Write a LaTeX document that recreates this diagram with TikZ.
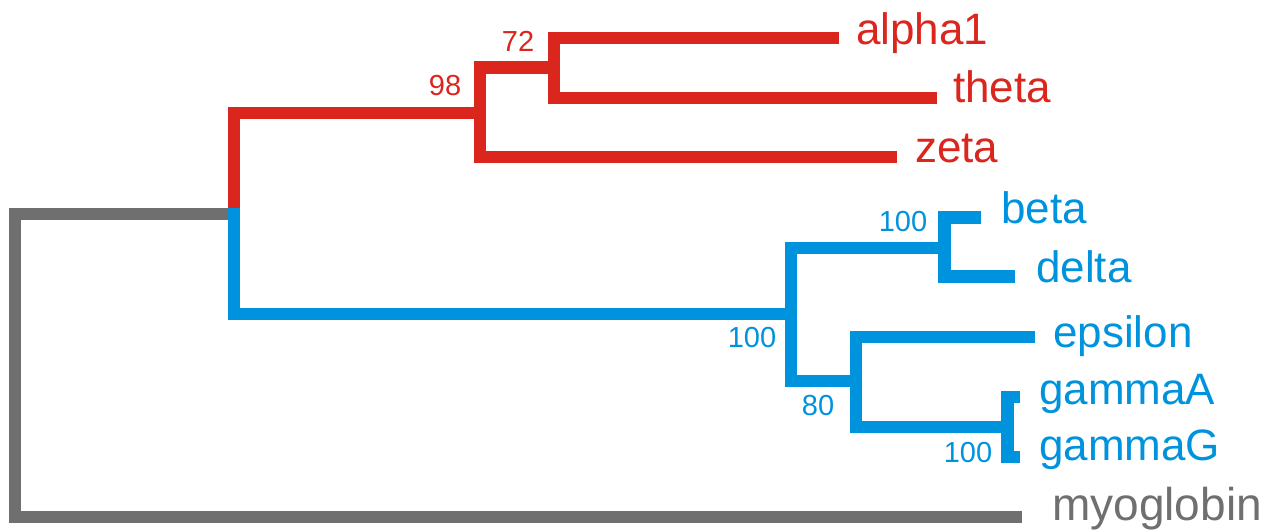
\documentclass[tikz,border=0pt]{standalone}
\usepackage{fontspec}
\setmainfont{Liberation Sans}
\definecolor{cladered}{RGB}{218,38,29}
\definecolor{cladeblue}{RGB}{0,147,221}
\definecolor{outgray}{RGB}{112,111,111}
\tikzset{
  branch/.style={line width=12.5pt, line cap=butt, line join=miter},
  redbranch/.style={branch, draw=cladered},
  bluebranch/.style={branch, draw=cladeblue},
  graybranch/.style={branch, draw=outgray},
  leaf/.style={anchor=base west, inner sep=0pt, font=\fontsize{44}{50}\selectfont},
  support/.style={anchor=base, inner sep=0pt, font=\fontsize{29}{34}\selectfont},
}
\begin{document}
\begin{tikzpicture}[x=1pt, y=-1pt]
\useasboundingbox (0,0) rectangle (1272,532);

% internal branch points
\coordinate (root) at (234,208);
\coordinate (n98)  at (480,113);
\coordinate (n72)  at (554,67.5);
\coordinate (nb)   at (791,314);
\coordinate (nbd)  at (944.5,248);
\coordinate (n80)  at (856,381);
\coordinate (ng)   at (1007.5,427);
\coordinate (outg) at (228,214);
\coordinate (base) at (15,517);

% branch tips
\coordinate (alphaend) at (839,38);
\coordinate (thetaend) at (937,98);
\coordinate (zetaend)  at (897,157);
\coordinate (betaend)  at (981,217.5);
\coordinate (deltaend) at (1015,276.5);
\coordinate (epsend)   at (1035,337);
\coordinate (gAend)    at (1020,397);
\coordinate (gGend)    at (1020,457);
\coordinate (myoend)   at (1022,517);

% alpha-like clade
\draw[redbranch] (root) |- (n98);
\draw[redbranch] (n72) -| (n98) |- (zetaend);
\draw[redbranch] (alphaend) -| (n72) |- (thetaend);

% beta-like clade
\draw[bluebranch] (root) |- (nb);
\draw[bluebranch] (nbd) -| (nb) |- (n80);
\draw[bluebranch] (betaend) -| (nbd) |- (deltaend);
\draw[bluebranch] (epsend) -| (n80) |- (ng);
\draw[bluebranch] (gAend) -| (ng) |- (gGend);

% outgroup
\draw[graybranch] (outg) -| (base) -- (myoend);

% tip labels
\node[leaf, text=cladered]  (lalpha) at (856,45)   {alpha1};
\node[leaf, text=cladered]  (ltheta) at (953,103)  {theta};
\node[leaf, text=cladered]  (lzeta)  at (915,163)  {zeta};
\node[leaf, text=cladeblue] (lbeta)  at (1001,223) {beta};
\node[leaf, text=cladeblue] (ldelta) at (1036,282) {delta};
\node[leaf, text=cladeblue] (leps)   at (1053,347) {epsilon};
\node[leaf, text=cladeblue] (lgA)    at (1039,404) {gammaA};
\node[leaf, text=cladeblue] (lgG)    at (1039,460) {gammaG};
\node[leaf, text=outgray, font=\fontsize{46}{52}\selectfont] (lmyo) at (1052,520) {myoglobin};

% bootstrap support values
\node[support, text=cladered]  (s72)  at (518,52)  {72};
\node[support, text=cladered]  (s98)  at (445,96)  {98};
\node[support, text=cladeblue] (sbd)  at (903,231) {100};
\node[support, text=cladeblue] (sb)   at (752,347) {100};
\node[support, text=cladeblue] (s80)  at (818,415) {80};
\node[support, text=cladeblue] (sg)   at (968,462) {100};
\end{tikzpicture}
\end{document}
